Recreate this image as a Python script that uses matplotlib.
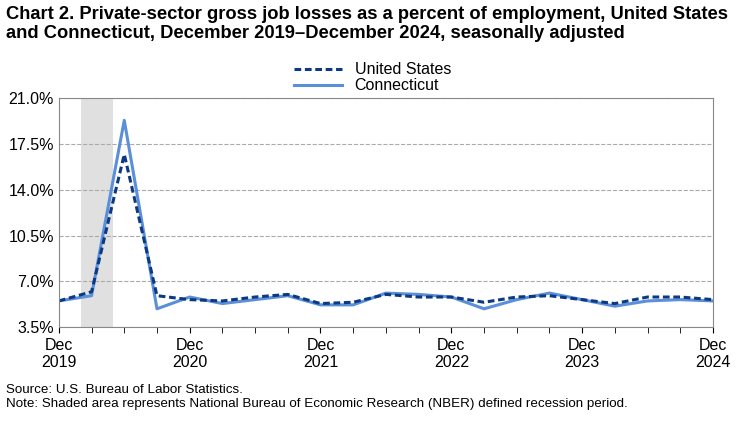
import matplotlib
matplotlib.use("Agg")
import matplotlib.pyplot as plt
from matplotlib.ticker import FuncFormatter

plt.rcParams["font.family"] = "Liberation Sans"

quarters = list(range(21))
us = [5.5, 6.2, 16.7, 5.9, 5.6, 5.5, 5.8, 6.0, 5.3, 5.4, 6.0, 5.8, 5.8, 5.4, 5.8, 5.9, 5.6, 5.3, 5.8, 5.8, 5.6]
ct = [5.5, 5.9, 19.3, 4.9, 5.8, 5.3, 5.6, 5.9, 5.2, 5.2, 6.1, 6.0, 5.8, 4.9, 5.6, 6.1, 5.6, 5.1, 5.5, 5.6, 5.5]
tick_pos = [0, 4, 8, 12, 16, 20]
tick_labels = ["Dec\n2019", "Dec\n2020", "Dec\n2021", "Dec\n2022", "Dec\n2023", "Dec\n2024"]
recession = (0.67, 1.67)

fig = plt.figure(figsize=(7.45, 4.21), dpi=100)
ax = fig.add_axes([0.079, 0.223, 0.878, 0.544])
ax.axvspan(*recession, color="#e0e0e0", lw=0)
ax.plot(quarters, ct, color="#5b8fd9", lw=2.2, label="Connecticut")
ax.plot(quarters, us, color="#0b3a82", lw=2.2, ls=(0, (2.2, 1.2)), label="United States")
ax.set_xlim(0, 20)
ax.set_ylim(3.5, 21)
ax.set_yticks([3.5, 7, 10.5, 14, 17.5, 21])
ax.yaxis.set_major_formatter(FuncFormatter(lambda v, p: f"{v:.1f}%"))
ax.set_xticks(tick_pos)
ax.set_xticklabels(tick_labels, fontsize=11.5)
ax.set_xticks(range(21), minor=True)
ax.tick_params(axis="x", which="both", length=4, direction="out")
ax.tick_params(axis="y", labelsize=11.5, length=0)
ax.grid(axis="y", color="#aaaaaa", ls="--", lw=0.8)
for s in ax.spines.values():
    s.set_color("#888888")
    s.set_linewidth(0.8)
h, l = ax.get_legend_handles_labels()
fig.legend(h[::-1], l[::-1], loc="center", bbox_to_anchor=(0.5, 0.815), frameon=False,
           fontsize=11.5, handlelength=3, labelspacing=0.05)
fig.text(0.008, 0.985, "Chart 2. Private-sector gross job losses as a percent of employment, United States\nand Connecticut, December 2019\u2013December 2024, seasonally adjusted",
         fontsize=13.2, fontweight="bold", va="top", linespacing=1.1)
fig.text(0.008, 0.025, "Source: U.S. Bureau of Labor Statistics.\nNote: Shaded area represents National Bureau of Economic Research (NBER) defined recession period.",
         fontsize=9.6, va="bottom", linespacing=1.25)
fig.savefig("out.png", dpi=100)
